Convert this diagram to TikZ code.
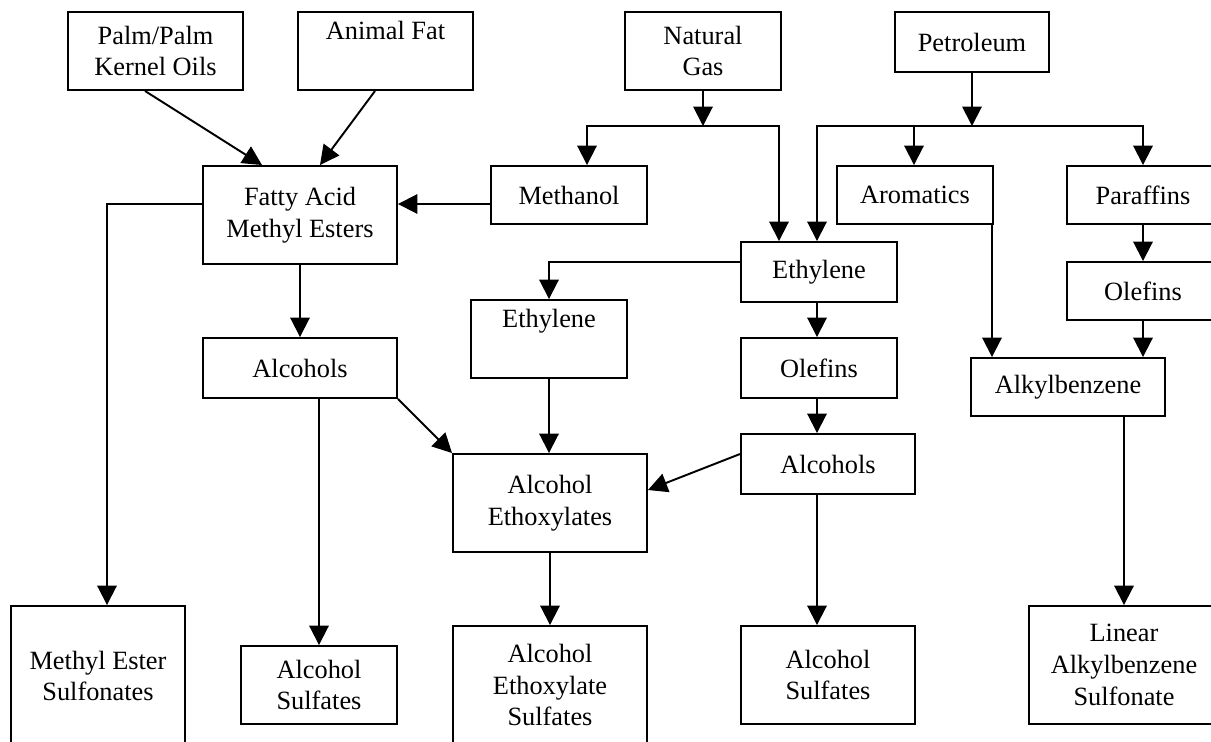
\documentclass[tikz,border=0pt]{standalone}
\usepackage{fontspec}
\setmainfont{Liberation Serif}
\usetikzlibrary{arrows.meta}

\begin{document}
\begin{tikzpicture}[x=0.02cm, y=-0.02cm, >={Triangle[length=11pt,width=11pt]},
	box/.style={draw, line width=1.1pt, align=center, inner sep=2pt, font=\fontsize{15}{18}\selectfont},
	sz/.style 2 args={minimum width=#1*0.02cm, minimum height=#2*0.02cm},
	arr/.style={->, line width=1.1pt}]
	\useasboundingbox (0,0) rectangle (1211,741);
	\clip (0,0) rectangle (1211,741);
	% feedstocks
	\node[box, sz={175}{78}] (palm) at (155.5,51) {Palm/Palm\\Kernel Oils};
	\node[box, sz={175}{78}] (animal) at (385.5,51) {Animal Fat\\\strut};
	\node[box, sz={156}{78}] (gas) at (703,51) {Natural\\Gas};
	\node[box, sz={154}{60}] (petrol) at (972,42) {Petroleum};
	% intermediates
	\node[box, sz={194}{98}] (fame) at (300,215) {Fatty Acid\\Methyl Esters};
	\node[box, sz={156}{58}] (methanol) at (569,195) {Methanol};
	\node[box, sz={156}{58}] (arom) at (915,195) {Aromatics};
	\node[box, sz={152}{58}] (paraf) at (1143,195) {Paraffins};
	\node[box, sz={156}{60}] (ethyR) at (819,272) {Ethylene};
	\node[box, sz={156}{78}] (ethyL) at (549,339) {Ethylene\\\strut};
	\node[box, sz={156}{60}] (olefM) at (819,368) {Olefins};
	\node[box, sz={152}{58}] (olefR) at (1143,291) {Olefins};
	\node[box, sz={194}{60}] (alcL) at (300,368) {Alcohols};
	\node[box, sz={174}{60}] (alcR) at (828,464) {Alcohols};
	\node[box, sz={194}{58}] (alkyl) at (1068,387) {Alkylbenzene};
	\node[box, sz={194}{98}] (ae) at (550,503) {Alcohol\\Ethoxylates};
	% products
	\node[box, sz={174}{140}] (mes) at (98,676) {Methyl Ester\\Sulfonates};
	\node[box, sz={156}{78}] (asL) at (319,685) {Alcohol\\Sulfates};
	\node[box, sz={194}{118}] (aes) at (550,685) {Alcohol\\Ethoxylate\\Sulfates};
	\node[box, sz={174}{98}] (asR) at (828,675) {Alcohol\\Sulfates};
	\node[box, sz={190}{118}] (las) at (1124,665) {Linear\\Alkylbenzene\\Sulfonate};
	% branch points
	\coordinate (gj) at (703,126);
	\coordinate (pj) at (972,126);
	% connectors
	\draw[arr] (palm.south -| 145,0) -- (fame.north -| 262,0);
	\draw[arr] (animal.south -| 375,0) -- (fame.north -| 320,0);
	\draw[arr] (methanol.west |- 0,204) -- (fame.east |- 0,204);
	\draw[arr] (gas.south) -- (gj);
	\draw[arr] (gj) -| (methanol.north -| 587,0);
	\draw[arr] (gj) -| (ethyR.north -| 779,0);
	\draw[arr] (petrol.south) -- (pj);
	\draw[arr] (pj) -| (ethyR.north -| 817,0);
	\draw[arr] (pj) -| (arom.north -| 914,0);
	\draw[arr] (pj) -| (paraf.north);
	\draw[arr] (fame.west |- 0,204) -| (mes.north -| 107,0);
	\draw[arr] (fame.south) -- (alcL.north);
	\draw[arr] (ethyR.west |- 0,262) -| (ethyL.north);
	\draw[arr] (ethyR.south -| 817,0) -- (olefM.north -| 817,0);
	\draw[arr] (olefM.south -| 817,0) -- (alcR.north -| 817,0);
	\draw[arr] (alcR.south -| 817,0) -- (asR.north -| 817,0);
	\draw[arr] (alcR.west |- 0,454) -- (ae.east |- 0,490);
	\draw[arr] (alcL.south east) -- (ae.north west);
	\draw[arr] (ethyL.south) -- (ae.north -| ethyL.south);
	\draw[arr] (alcL.south -| asL.north) -- (asL.north);
	\draw[arr] (ae.south) -- (aes.north);
	\draw[arr] (arom.south -| 992,0) -- (alkyl.north -| 992,0);
	\draw[arr] (paraf.south) -- (olefR.north);
	\draw[arr] (olefR.south) -- (alkyl.north -| olefR.south);
	\draw[arr] (alkyl.south -| las.north) -- (las.north);
\end{tikzpicture}
\end{document}
